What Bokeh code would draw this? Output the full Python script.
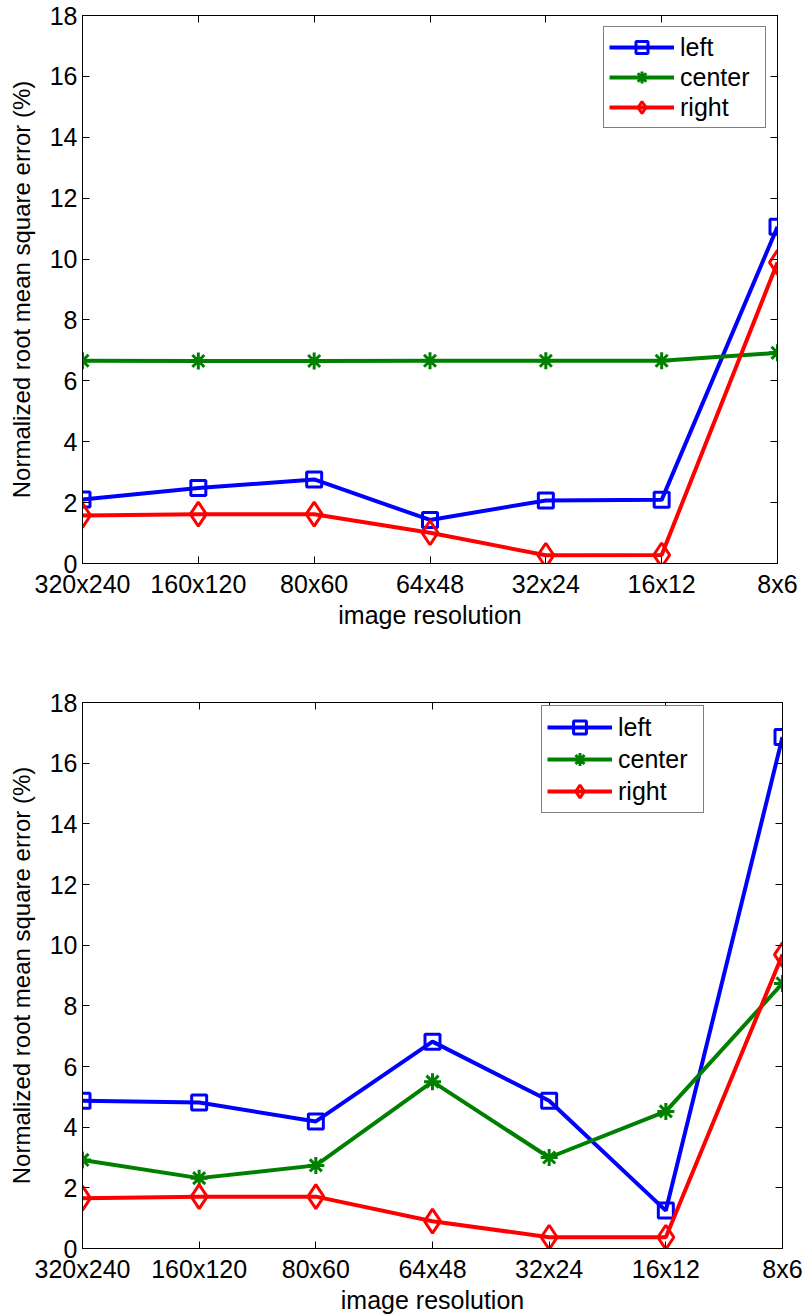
from bokeh.plotting import figure
from bokeh.models import Range1d, FixedTicker, LinearAxis, Legend, LegendItem
from bokeh.layouts import column
from bokeh.embed import file_html
from bokeh.resources import INLINE

categories = ["320x240", "160x120", "80x60", "64x48", "32x24", "16x12", "8x6"]
y_ticks = [0, 2, 4, 6, 8, 10, 12, 14, 16, 18]

top_left = [2.10, 2.48, 2.76, 1.43, 2.07, 2.09, 11.06]
top_center = [6.66, 6.65, 6.65, 6.66, 6.66, 6.66, 6.92]
top_right = [1.58, 1.62, 1.62, 1.01, 0.27, 0.28, 9.89]

bot_left = [4.87, 4.81, 4.19, 6.82, 4.87, 1.25, 16.86]
bot_center = [2.92, 2.32, 2.74, 5.50, 3.00, 4.52, 8.74]
bot_right = [1.66, 1.71, 1.71, 0.90, 0.37, 0.37, 9.69]

FONT = "Liberation Sans"
BLUE, GREEN, RED = "#0000ff", "#008000", "#ff0000"


def style_axis(ax, labels=True):
    ax.axis_line_color = "black"
    ax.axis_line_width = 1
    ax.major_tick_in = 7
    ax.major_tick_out = 0
    ax.major_tick_line_color = "black"
    ax.minor_tick_line_color = None
    ax.major_label_text_font = FONT
    if labels:
        ax.major_label_text_color = "black"
        ax.major_label_text_font_size = "25px"
    else:
        ax.major_label_text_color = None
        ax.major_label_text_font_size = "1px"
        ax.major_label_standoff = 0


def make_plot(border_top, border_bottom, border_left, border_right,
              frame_h, s_left, s_center, s_right, legend_loc, row_h, lmargin):
    xs = list(range(len(categories)))
    width = 803
    p = figure(frame_width=width - border_left - border_right,
               frame_height=frame_h,
               output_backend="svg", toolbar_location=None,
               x_range=Range1d(0, len(categories) - 1), y_range=Range1d(0, 18),
               min_border_top=border_top, min_border_bottom=border_bottom,
               min_border_left=border_left, min_border_right=border_right)
    p.xgrid.visible = False
    p.ygrid.visible = False
    p.outline_line_color = "black"
    p.outline_line_width = 1
    p.background_fill_color = "white"
    p.border_fill_color = "white"

    p.xaxis.ticker = FixedTicker(ticks=xs)
    p.yaxis.ticker = FixedTicker(ticks=y_ticks)
    p.xaxis.major_label_overrides = {i: c for i, c in enumerate(categories)}
    style_axis(p.xaxis[0])
    style_axis(p.yaxis[0])
    p.xaxis.major_label_standoff = 6
    p.yaxis.major_label_standoff = 5
    p.xaxis.axis_label = "image resolution"
    p.yaxis.axis_label = "Normalized root mean square error (%)"
    for ax in (p.xaxis[0], p.yaxis[0]):
        ax.axis_label_text_font = FONT
        ax.axis_label_text_font_style = "normal"
        ax.axis_label_text_color = "black"
    p.xaxis.axis_label_text_font_size = "25px"
    p.yaxis.axis_label_text_font_size = "24px"
    p.xaxis.axis_label_standoff = 0
    p.yaxis.axis_label_standoff = 12

    top_ax = LinearAxis(ticker=FixedTicker(ticks=xs))
    style_axis(top_ax, labels=False)
    p.add_layout(top_ax, "above")
    right_ax = LinearAxis(ticker=FixedTicker(ticks=y_ticks))
    style_axis(right_ax, labels=False)
    p.add_layout(right_ax, "right")

    lw = 4
    l1 = p.line(xs, s_left, line_color=BLUE, line_width=lw)
    m1 = p.scatter(xs, s_left, marker="square", size=15, fill_color=None,
                   line_color=BLUE, line_width=3)
    l2 = p.line(xs, s_center, line_color=GREEN, line_width=lw)
    m2 = p.scatter(xs, s_center, marker="asterisk", size=17,
                   line_color=GREEN, line_width=3)
    l3 = p.line(xs, s_right, line_color=RED, line_width=lw)
    m3 = p.scatter(xs, s_right, marker="diamond", size=24, fill_color=None,
                   line_color=RED, line_width=3)

    legend = Legend(items=[
        LegendItem(label="left", renderers=[l1, m1]),
        LegendItem(label="center", renderers=[l2, m2]),
        LegendItem(label="right", renderers=[l3, m3]),
    ], location=legend_loc)
    legend.label_text_font = FONT
    legend.label_text_font_size = "25px"
    legend.label_text_color = "black"
    legend.glyph_width = 65
    legend.glyph_height = row_h
    legend.label_height = row_h
    legend.label_width = 80
    legend.label_standoff = 6
    legend.spacing = 0
    legend.padding = 5
    legend.margin = lmargin
    legend.border_line_color = "black"
    legend.border_line_width = 1
    legend.background_fill_color = "white"
    legend.background_fill_alpha = 1
    p.add_layout(legend, "center")
    return p


p1 = make_plot(15, 97, 82, 26, 548, top_left, top_center, top_right,
               "top_right", 30, 11)
p2 = make_plot(42, 68, 78, 25, 546, bot_left, bot_center, bot_right,
               (459, 435), 32, 0)

layout = column(p1, p2, spacing=0)
open("out.html", "w").write(file_html(layout, INLINE))
